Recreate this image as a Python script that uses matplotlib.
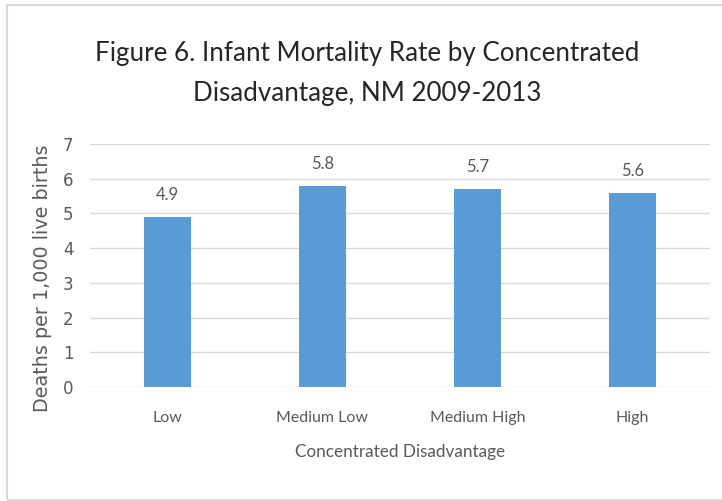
import matplotlib.pyplot as plt
from matplotlib.patches import Rectangle

categories = ["Low", "Medium Low", "Medium High", "High"]
rates = [4.9, 5.8, 5.7, 5.6]
y_ticks = [0, 1, 2, 3, 4, 5, 6, 7]

bar_color = "#5B9BD5"
text_gray = "#595959"

fig = plt.figure(figsize=(7.22, 5.01), dpi=100)
ax = fig.add_axes([90 / 722, 1 - 387 / 501, 620 / 722, 243 / 501])

x = range(len(categories))
ax.bar(x, rates, width=0.30, color=bar_color, zorder=3)
for xi, v in zip(x, rates):
    ax.text(xi, v + 0.4, f"{v:.1f}", ha="center", va="bottom",
            fontsize=12, color=text_gray, family="Lato")

ax.set_xlim(-0.5, len(categories) - 0.5)
ax.set_ylim(0, 7)
ax.set_yticks(y_ticks)
ax.set_yticklabels([str(t) for t in y_ticks], fontsize=12, color=text_gray,
                   family="DejaVu Sans")
ax.set_xticks(list(x))
ax.set_xticklabels(categories, fontsize=11.5, color=text_gray, family="Lato")
ax.tick_params(axis="x", length=0, pad=17)
ax.tick_params(axis="y", length=0, pad=12)
ax.grid(axis="y", color="#D9D9D9", linewidth=1, zorder=0)
for s in ax.spines.values():
    s.set_visible(False)

ax.set_xlabel("Concentrated Disadvantage", fontsize=12.3, color=text_gray,
              family="Lato", labelpad=14)
fig.text(43 / 722, 1 - 278 / 501, "Deaths per 1,000 live births", rotation=90,
         ha="center", va="center", fontsize=13.8, color=text_gray,
         family="DejaVu Sans")

fig.text(367 / 722, 1 - 74 / 501,
         "Figure 6. Infant Mortality Rate by Concentrated\nDisadvantage, NM 2009-2013",
         ha="center", va="center", fontsize=18.7, color="#262626", family="Lato",
         linespacing=1.75)

# thin frame around the chart area
fig.patches.append(Rectangle((7 / 722, 1 / 501), 720 / 722, 495 / 501,
                             transform=fig.transFigure, fill=False,
                             edgecolor="#D9D9D9", linewidth=1.5))

fig.savefig("out.png", dpi=100)
